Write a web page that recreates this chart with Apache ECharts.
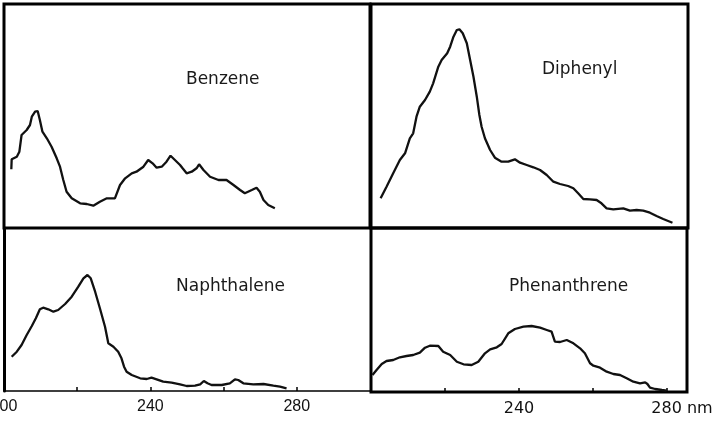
<!DOCTYPE html>
<html lang="en">
<head>
    <meta charset="UTF-8">
    <title>UV spectra</title>
    <script src="https://cdn.jsdelivr.net/npm/echarts@6/dist/echarts.min.js"></script>
    <style>
        html, body { margin: 0; padding: 0; background: #fff; }
        #chart { width: 718px; height: 421px; }
    </style>
</head>
<body>
<div id="chart"></div>
<script>
    // wavelength (nm) and relative absorbance
    var benzeneWl = [202.0, 202.1, 203.5, 204.2, 204.8, 206.2, 207.1, 207.6, 208.5, 209.2, 209.8, 210.5, 211.7, 213.0, 214.4, 215.3, 216.2, 217.1, 218.5, 220.8, 222.6, 224.4, 226.2, 228.1, 230.3, 231.7, 233.1, 234.9, 236.2, 238.1, 239.4, 240.6, 241.7, 243.1, 244.4, 245.5, 246.7, 248.1, 248.8, 249.9, 251.3, 252.6, 253.3, 254.5, 256.3, 258.6, 260.8, 262.7, 264.5, 265.8, 267.7, 269.0, 269.9, 270.9, 272.2, 274.0];
    var benzeneAbs = [58.7, 68.7, 71.3, 76.3, 93, 98, 103, 111.3, 116.3, 117, 108, 96.3, 89.7, 81.3, 69.7, 61.3, 48, 36.3, 29.7, 24.7, 24, 22.3, 26.3, 29.7, 29.7, 43, 49.7, 54.7, 56.3, 61.3, 68, 64.7, 60.3, 61.3, 66.3, 72.3, 68, 63, 59.7, 54.7, 56.3, 59.7, 63.7, 58, 51.3, 48, 48, 43, 38, 34.7, 38, 40.3, 36.3, 28, 23, 19.7];

    var diphenylWl = [202.6, 204.2, 206.0, 207.8, 209.2, 210.5, 211.4, 212.3, 213.2, 214.6, 215.9, 216.8, 218.2, 219.1, 220.6, 221.4, 222.3, 223.2, 223.9, 224.8, 225.9, 226.8, 227.7, 228.6, 229.3, 229.9, 230.8, 232.2, 233.5, 235.3, 237.1, 238.9, 240.3, 242.1, 243.9, 245.7, 247.5, 249.3, 251.1, 253.3, 254.7, 256.0, 257.4, 259.2, 261.0, 262.3, 263.7, 265.5, 268.2, 270.0, 271.8, 273.6, 275.4, 277.2, 279.0, 281.5];
    var diphenylAbs = [29.7, 41.3, 54.7, 68, 74.7, 89.7, 94.7, 111.3, 121.3, 128, 136.3, 144.7, 161.3, 168, 174.7, 181.3, 191.3, 198, 198.7, 194.7, 184.7, 168, 151.3, 131.3, 113, 101.3, 89.7, 78, 70.3, 66.3, 66.3, 68.7, 65.3, 63, 60.7, 58, 53, 46.3, 44, 42, 39.7, 34.7, 29, 28.7, 28, 24.7, 19.7, 18.7, 19.7, 17.3, 18, 17.3, 15.3, 12, 9, 5.3];

    var naphWl = [202.1, 203.5, 204.8, 206.2, 207.6, 208.7, 209.8, 210.7, 212.1, 213.5, 214.8, 216.7, 218.5, 220.3, 221.7, 222.8, 223.7, 224.9, 226.2, 227.6, 228.5, 229.9, 231.2, 232.1, 232.8, 233.5, 234.9, 237.2, 239.0, 240.3, 241.7, 243.5, 245.8, 248.1, 249.9, 252.2, 253.6, 254.6, 255.6, 256.7, 259.5, 261.7, 263.1, 264.0, 265.4, 268.1, 270.9, 273.6, 275.4, 277.2];
    var naphAbs = [34.3, 39.3, 46, 56, 65, 72.7, 81.7, 83.3, 81.7, 79.3, 81, 87, 94.3, 104.3, 112.7, 116, 112.7, 99.3, 82.7, 64.3, 47.7, 44.3, 39.3, 32.7, 24.3, 19.3, 16, 12.7, 12, 13.3, 11.7, 9.3, 8.3, 6.7, 5, 5.3, 6.7, 10, 7.7, 6, 6, 7.7, 11.7, 11, 7.7, 6.7, 7, 5.3, 4.3, 2.7];

    var phenWl = [200.4, 201.5, 202.9, 204.2, 206.0, 207.8, 209.6, 211.4, 213.2, 214.6, 215.9, 218.2, 219.5, 221.4, 223.2, 225.0, 227.2, 229.0, 230.8, 232.2, 234.0, 235.3, 237.1, 238.9, 241.2, 243.4, 245.7, 247.5, 248.8, 249.7, 251.1, 252.9, 254.7, 256.5, 257.8, 259.2, 260.1, 261.9, 263.7, 265.5, 267.3, 269.1, 270.9, 272.7, 274.1, 274.7, 275.4, 276.8, 278.6, 279.9];
    var phenAbs = [17, 22, 28, 31, 32, 34.7, 36, 37, 39.3, 44.3, 46.3, 46, 40.3, 37, 30.3, 27.7, 27, 30.3, 38.7, 42.7, 44.7, 48, 58.7, 63, 65.3, 66, 64.3, 62, 60.3, 50.3, 50, 52, 48.7, 43.7, 38.7, 28.7, 26.3, 24.3, 20.3, 18, 17, 13.7, 10.3, 8.7, 9.7, 8, 4.3, 3, 2, 1.3];

    var leftTicks = [200, 240, 280];
    var rightTicks = [240, 280];

    function pairs(xs, ys) {
        var out = [];
        for (var i = 0; i < xs.length; i++) {
            out.push([xs[i], ys[i]]);
        }
        return out;
    }

    var nameStyle = { fontFamily: 'DejaVu Sans', fontSize: 17, fontWeight: 'normal', color: '#1a1a1a' };
    var lineStyle = { color: '#111', width: 2.3 };

    var myChart = echarts.init(document.getElementById('chart'));

    var option = {
        animation: false,
        backgroundColor: '#fff',
        title: [
            { text: 'Benzene', left: 186, top: 71, padding: 0, textStyle: nameStyle },
            { text: 'Diphenyl', left: 542, top: 61, padding: 0, textStyle: nameStyle },
            { text: 'Naphthalene', left: 176, top: 278, padding: 0, textStyle: nameStyle },
            { text: 'Phenanthrene', left: 509, top: 278, padding: 0, textStyle: nameStyle }
        ],
        grid: [
            { left: 4, top: 4, width: 366, height: 224, outerBoundsMode: 'none', show: true, borderColor: '#000', borderWidth: 3 },
            { left: 371, top: 4, width: 317, height: 224, outerBoundsMode: 'none', show: true, borderColor: '#000', borderWidth: 3 },
            { left: 4, top: 228, width: 366, height: 163, outerBoundsMode: 'none' },
            { left: 371, top: 228, width: 316, height: 164, outerBoundsMode: 'none', show: true, borderColor: '#000', borderWidth: 3 }
        ],
        xAxis: [
            { gridIndex: 0, type: 'value', min: 200, max: 300, show: false },
            { gridIndex: 1, type: 'value', min: 200, max: 285.7, show: false },
            {
                gridIndex: 2, type: 'value', min: 200, max: 300, interval: 20,
                axisLine: { lineStyle: { color: '#000', width: 1.5 } },
                axisTick: { inside: true, length: 4, lineStyle: { color: '#000', width: 1.5 } },
                splitLine: { show: false },
                axisLabel: {
                    margin: 8, color: '#111', fontFamily: 'Liberation Sans', fontSize: 16,
                    showMaxLabel: false,
                    formatter: function (v) { return leftTicks.indexOf(v) >= 0 ? String(v) : ''; }
                }
            },
            {
                gridIndex: 3, type: 'value', min: 200, max: 285.4, interval: 20,
                axisLine: { show: false },
                axisTick: { inside: true, length: 4, lineStyle: { color: '#000', width: 1.5 } },
                splitLine: { show: false },
                axisLabel: {
                    margin: 9, color: '#111', fontFamily: 'DejaVu Sans', fontSize: 16,
                    showMinLabel: false, showMaxLabel: false,
                    formatter: function (v) {
                        if (rightTicks.indexOf(v) < 0) return '';
                        return v === 280 ? '{r|280 nm}' : String(v);
                    },
                    rich: { r: { fontFamily: 'DejaVu Sans', fontSize: 16, color: '#111', padding: [0, 0, 0, 30] } }
                }
            }
        ],
        yAxis: [
            { gridIndex: 0, type: 'value', min: 0, max: 224, show: false },
            { gridIndex: 1, type: 'value', min: 0, max: 224, show: false },
            {
                gridIndex: 2, type: 'value', min: 0, max: 163,
                axisLine: { show: true, lineStyle: { color: '#000', width: 3 } },
                axisTick: { show: false }, axisLabel: { show: false }, splitLine: { show: false }
            },
            { gridIndex: 3, type: 'value', min: 0, max: 164, show: false }
        ],
        series: [
            { name: 'Benzene', type: 'line', xAxisIndex: 0, yAxisIndex: 0, showSymbol: false, lineStyle: lineStyle, data: pairs(benzeneWl, benzeneAbs) },
            { name: 'Diphenyl', type: 'line', xAxisIndex: 1, yAxisIndex: 1, showSymbol: false, lineStyle: lineStyle, data: pairs(diphenylWl, diphenylAbs) },
            { name: 'Naphthalene', type: 'line', xAxisIndex: 2, yAxisIndex: 2, showSymbol: false, lineStyle: lineStyle, data: pairs(naphWl, naphAbs) },
            { name: 'Phenanthrene', type: 'line', xAxisIndex: 3, yAxisIndex: 3, showSymbol: false, lineStyle: lineStyle, data: pairs(phenWl, phenAbs) }
        ]
    };

    myChart.setOption(option);
</script>
</body>
</html>
